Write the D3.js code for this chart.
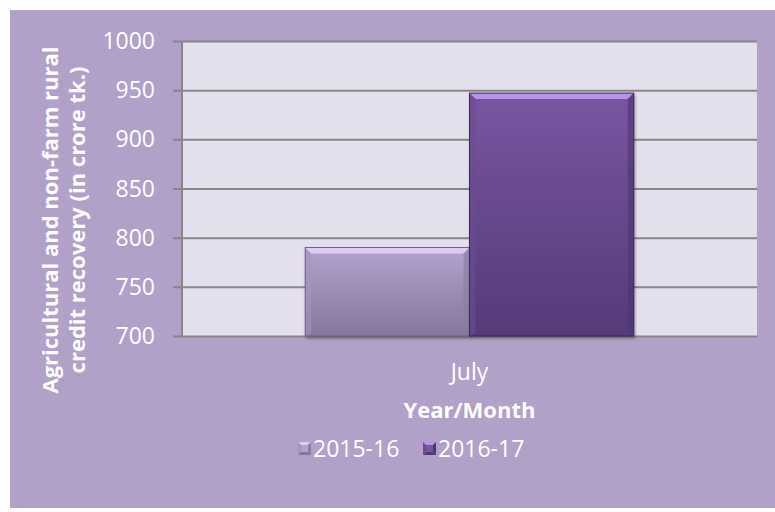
<!DOCTYPE html>
<html>
<head>
<meta charset="utf-8">
<script src="https://cdn.jsdelivr.net/npm/d3@7"></script>
<style>
  body { margin: 0; background: #fff; overflow: hidden; }
  text { font-family: "Open Sans", sans-serif; }
</style>
</head>
<body>
<div id="chart-area"></div>
<script>
// chart values
const categories = ["July"];
const seriesNames = ["2015-16", "2016-17"];
const values201516 = [790];
const values201617 = [947];
const yTicks = [700, 750, 800, 850, 900, 950, 1000];

const series = [
    { name: seriesNames[0], values: values201516, id: "s1",
      top: "#b4a3ce", bottom: "#85769b", bevel: "#dccbf6", left: "#a595bf", right: "#8b7ba3", edge: "#6f6287" },
    { name: seriesNames[1], values: values201617, id: "s2",
      top: "#7856a1", bottom: "#543b78", bevel: "#b893e9", left: "#6a4c93", right: "#4d3670", edge: "#3b2956" }
];

const config = {
    width: 775,
    height: 512,
    plot: { left: 182, right: 757, top: 41, bottom: 336 }
};

const svg = d3.select("#chart-area")
    .append("svg")
    .attr("width", config.width)
    .attr("height", config.height)
    .style("display", "block");

const defs = svg.append("defs");
series.forEach(s => {
    const grad = defs.append("linearGradient")
        .attr("id", "grad-" + s.id)
        .attr("x1", 0).attr("y1", 0).attr("x2", 0).attr("y2", 1);
    grad.append("stop").attr("offset", "0%").attr("stop-color", s.top);
    grad.append("stop").attr("offset", "100%").attr("stop-color", s.bottom);
});
const shadow = defs.append("filter").attr("id", "shadow")
    .attr("x", "-10%").attr("y", "-10%").attr("width", "120%").attr("height", "120%");
shadow.append("feDropShadow")
    .attr("dx", 1).attr("dy", 2).attr("stdDeviation", 1.5)
    .attr("flood-color", "#000").attr("flood-opacity", 0.35);

// outer chart area
svg.append("rect")
    .attr("x", 10).attr("y", 10)
    .attr("width", 765).attr("height", 498)
    .attr("fill", "#b1a0c7");

// plot area
svg.append("rect")
    .attr("x", config.plot.left).attr("y", config.plot.top)
    .attr("width", config.plot.right - config.plot.left)
    .attr("height", config.plot.bottom - config.plot.top)
    .attr("fill", "#e4dfec");

const yScale = d3.scaleLinear()
    .domain([700, 1000])
    .range([config.plot.bottom, config.plot.top]);

const x0 = d3.scaleBand()
    .domain(categories)
    .range([config.plot.left, config.plot.right])
    .padding(0);

// Excel gap width 150%
const gap = 1.5;
const barW = x0.bandwidth() / (seriesNames.length + gap);
const x1 = d3.scaleBand()
    .domain(seriesNames)
    .range([gap / 2 * barW, gap / 2 * barW + barW * seriesNames.length])
    .padding(0);

// gridlines with short tick marks on the left
const yAxisGroup = svg.append("g")
    .attr("transform", `translate(${config.plot.right}, 0)`)
    .call(d3.axisLeft(yScale).tickValues(yTicks).tickSize(config.plot.right - config.plot.left + 9).tickFormat(""));
yAxisGroup.select(".domain").remove();
yAxisGroup.selectAll(".tick line")
    .attr("stroke", "#868686")
    .attr("stroke-width", 2);

// vertical axis line
svg.append("line")
    .attr("x1", config.plot.left).attr("x2", config.plot.left)
    .attr("y1", config.plot.top).attr("y2", config.plot.bottom)
    .attr("stroke", "#868686").attr("stroke-width", 2);

// tick labels
svg.append("g").selectAll("text")
    .data(yTicks)
    .join("text")
    .attr("x", 155)
    .attr("y", d => yScale(d))
    .attr("dy", "0.35em")
    .attr("text-anchor", "end")
    .attr("font-size", "23px")
    .attr("fill", "#fff")
    .text(d => d);

// bars
const bars = svg.append("g");
categories.forEach((cat, ci) => {
    series.forEach(s => {
        const v = s.values[ci];
        const x = x0(cat) + x1(s.name);
        const w = x1.bandwidth();
        const yTop = yScale(v);
        const yBot = yScale(700);
        const h = yBot - yTop;
        const b = 6;
        const g = bars.append("g").attr("filter", "url(#shadow)");
        g.append("rect")
            .attr("x", x).attr("y", yTop)
            .attr("width", w).attr("height", h)
            .attr("fill", `url(#grad-${s.id})`);
        // bevel faces
        g.append("polygon")
            .attr("points", [[x, yTop], [x + w, yTop], [x + w - b, yTop + b], [x + b, yTop + b]].join(" "))
            .attr("fill", s.bevel);
        g.append("polygon")
            .attr("points", [[x, yTop], [x + b, yTop + b], [x + b, yBot - 3], [x, yBot]].join(" "))
            .attr("fill", s.left).attr("opacity", 0.6);
        g.append("polygon")
            .attr("points", [[x + w, yTop], [x + w - b, yTop + b], [x + w - b, yBot - 3], [x + w, yBot]].join(" "))
            .attr("fill", s.right).attr("opacity", 0.6);
        g.append("rect")
            .attr("x", x).attr("y", yTop)
            .attr("width", w).attr("height", h)
            .attr("fill", "none")
            .attr("stroke", s.edge)
            .attr("stroke-width", 1);
    });
});

// category label
svg.append("g").selectAll("text")
    .data(categories)
    .join("text")
    .attr("x", d => x0(d) + x0.bandwidth() / 2)
    .attr("y", 380)
    .attr("text-anchor", "middle")
    .attr("font-size", "23px")
    .attr("fill", "#fff")
    .text(d => d);

// axis titles
svg.append("text")
    .attr("x", (config.plot.left + config.plot.right) / 2)
    .attr("y", 418)
    .attr("text-anchor", "middle")
    .attr("font-size", "22px")
    .attr("font-weight", "bold")
    .attr("fill", "#fff")
    .text("Year/Month");

const yTitle = svg.append("text")
    .attr("transform", "translate(50, 220) rotate(-90)")
    .attr("text-anchor", "middle")
    .attr("font-size", "22px")
    .attr("font-weight", "bold")
    .attr("fill", "#fff");
yTitle.append("tspan").attr("x", 0).attr("y", 8).text("Agricultural and non-farm rural");
yTitle.append("tspan").attr("x", 0).attr("y", 35).text("credit recovery (in crore tk.)");

// legend with pyramid markers
const legendX = [298, 423];
const legend = svg.append("g");
series.forEach((s, i) => {
    const lx = legendX[i], ly = 442, m = 13, c = m / 2;
    const lg = legend.append("g");
    lg.append("polygon").attr("points", [[lx, ly], [lx + m, ly], [lx + c, ly + c]].join(" ")).attr("fill", s.bevel);
    lg.append("polygon").attr("points", [[lx, ly], [lx, ly + m], [lx + c, ly + c]].join(" ")).attr("fill", s.left);
    lg.append("polygon").attr("points", [[lx + m, ly], [lx + m, ly + m], [lx + c, ly + c]].join(" ")).attr("fill", s.right);
    lg.append("polygon").attr("points", [[lx, ly + m], [lx + m, ly + m], [lx + c, ly + c]].join(" ")).attr("fill", s.bottom);
    lg.append("rect").attr("x", lx + 3).attr("y", ly + 3).attr("width", m - 6).attr("height", m - 6).attr("fill", s.top);
    lg.append("text")
        .attr("x", lx + m + 2)
        .attr("y", ly + m / 2)
        .attr("dy", "0.35em")
        .attr("font-size", "23px")
        .attr("fill", "#fff")
        .text(s.name);
});
</script>
</body>
</html>
